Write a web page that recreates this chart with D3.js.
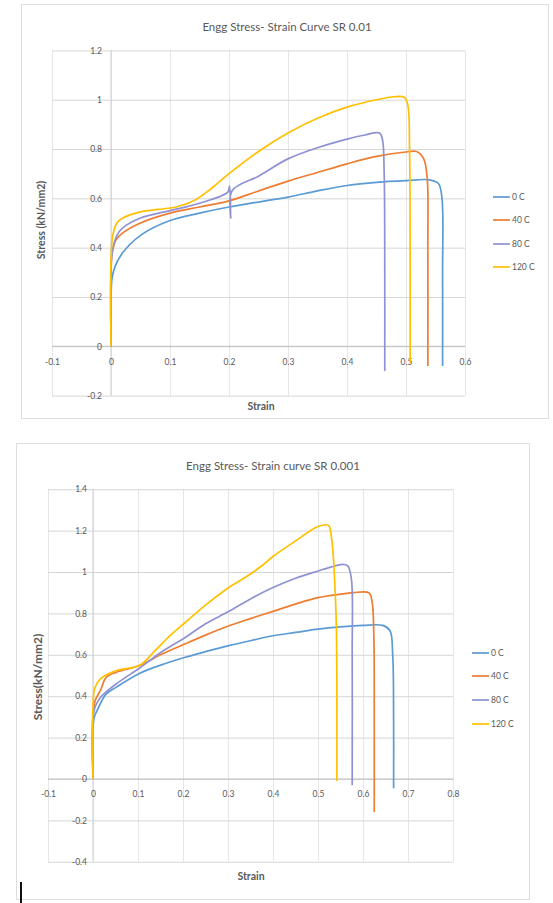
<!DOCTYPE html>
<html>
<head>
<meta charset="utf-8">
<script src="https://cdn.jsdelivr.net/npm/d3@7/dist/d3.min.js"></script>
<style>
  html, body { margin: 0; padding: 0; background: #fff; }
  svg { display: block; }
  text { font-family: Lato, "Open Sans", "Liberation Sans", sans-serif; fill: #595959; }
</style>
</head>
<body>
<svg id="fig" width="553" height="903"></svg>
<script>
// Engineering stress-strain curves at two strain rates, four test temperatures.
const seriesNames = ["0 C", "40 C", "80 C", "120 C"];
const seriesColors = ["#5B9BD5", "#ED7D31", "#8E92D2", "#FFC000"];

// Strain rate 0.01 : [strain, stress (kN/mm2)]
const sr01_0C = [[0,0],[0,0.2],[0.002,0.28],[0.008,0.33],[0.02,0.38],[0.05,0.45],[0.1,0.51],[0.15,0.54],[0.2,0.565],[0.25,0.585],[0.3,0.605],[0.35,0.63],[0.4,0.652],[0.45,0.665],[0.5,0.672],[0.54,0.675],[0.555,0.66],[0.561,0.6],[0.562,0.3],[0.562,-0.08]];
const sr01_40C = [[0,0],[0,0.3],[0.002,0.38],[0.008,0.43],[0.02,0.46],[0.05,0.5],[0.1,0.54],[0.15,0.565],[0.2,0.59],[0.25,0.63],[0.3,0.67],[0.35,0.705],[0.4,0.74],[0.45,0.77],[0.5,0.788],[0.518,0.79],[0.53,0.76],[0.536,0.68],[0.537,0.4],[0.537,-0.08]];
const sr01_80C = [[0,0],[0,0.3],[0.002,0.38],[0.01,0.45],[0.02,0.48],[0.05,0.52],[0.1,0.55],[0.15,0.58],[0.198,0.625],[0.201,0.65],[0.203,0.52],[0.205,0.63],[0.25,0.69],[0.3,0.76],[0.35,0.805],[0.4,0.84],[0.43,0.857],[0.455,0.865],[0.46,0.84],[0.463,0.7],[0.464,0.3],[0.464,-0.1]];
const sr01_120C = [[0,0],[0,0.35],[0.003,0.45],[0.01,0.5],[0.02,0.52],[0.05,0.545],[0.08,0.555],[0.11,0.565],[0.14,0.59],[0.17,0.64],[0.2,0.7],[0.25,0.79],[0.3,0.865],[0.35,0.925],[0.4,0.97],[0.45,1.0],[0.48,1.012],[0.497,1.01],[0.503,0.98],[0.506,0.8],[0.507,0.3],[0.507,-0.07]];

// Strain rate 0.001 : [strain, stress (kN/mm2)]
const sr001_0C = [[0,0],[0,0.25],[0.003,0.3],[0.009,0.33],[0.029,0.41],[0.052,0.444],[0.103,0.51],[0.15,0.55],[0.205,0.588],[0.25,0.615],[0.302,0.644],[0.35,0.668],[0.4,0.692],[0.45,0.708],[0.5,0.724],[0.55,0.735],[0.6,0.742],[0.644,0.742],[0.66,0.716],[0.666,0.6],[0.668,0.3],[0.668,-0.045]];
const sr001_40C = [[0,0],[0,0.3],[0.005,0.38],[0.017,0.43],[0.029,0.49],[0.052,0.516],[0.103,0.548],[0.15,0.6],[0.205,0.653],[0.25,0.695],[0.302,0.74],[0.35,0.775],[0.4,0.81],[0.45,0.845],[0.5,0.876],[0.55,0.893],[0.578,0.9],[0.613,0.9],[0.62,0.86],[0.624,0.7],[0.625,0.3],[0.625,-0.16]];
const sr001_80C = [[0,0],[0,0.3],[0.005,0.35],[0.017,0.395],[0.052,0.46],[0.103,0.535],[0.15,0.61],[0.205,0.684],[0.25,0.75],[0.302,0.81],[0.35,0.87],[0.4,0.925],[0.45,0.97],[0.5,1.005],[0.53,1.025],[0.554,1.037],[0.566,1.03],[0.574,0.97],[0.576,0.6],[0.576,-0.03]];
const sr001_120C = [[0,0],[0,0.35],[0.004,0.44],[0.017,0.485],[0.052,0.524],[0.103,0.548],[0.138,0.62],[0.17,0.69],[0.205,0.756],[0.25,0.84],[0.302,0.925],[0.35,0.99],[0.375,1.03],[0.4,1.075],[0.45,1.15],[0.5,1.22],[0.523,1.225],[0.53,1.165],[0.54,0.8],[0.542,0.3],[0.542,-0.01]];

// Tick values
const xTicks01 = [-0.1, 0, 0.1, 0.2, 0.3, 0.4, 0.5, 0.6];
const yTicks01 = [-0.2, 0, 0.2, 0.4, 0.6, 0.8, 1, 1.2];
const xTicks001 = [-0.1, 0, 0.1, 0.2, 0.3, 0.4, 0.5, 0.6, 0.7, 0.8];
const yTicks001 = [-0.4, -0.2, 0, 0.2, 0.4, 0.6, 0.8, 1, 1.2, 1.4];

const titles = ["Engg Stress- Strain Curve SR 0.01", "Engg Stress- Strain curve SR 0.001"];
const yTitles = ["Stress (kN/mm2)", "Stress(kN/mm2)"];
const xTitle = "Strain";

const svg = d3.select("#fig");

function drawChart(cfg) {
  const g = svg.append("g");
  const [bx0, by0, bx1, by1] = cfg.box;
  g.append("rect").attr("x", bx0 + 0.5).attr("y", by0 + 0.5)
    .attr("width", bx1 - bx0).attr("height", by1 - by0)
    .attr("fill", "#fff").attr("stroke", "#dedede");

  const x = d3.scaleLinear().domain(cfg.xDomain).range(cfg.xRange);
  const y = d3.scaleLinear().domain(cfg.yDomain).range(cfg.yRange);

  // vertical gridlines
  g.append("g").attr("transform", `translate(0,${cfg.yRange[1]})`)
    .call(d3.axisBottom(x).tickValues(cfg.xTicks).tickSize(cfg.yRange[0] - cfg.yRange[1]).tickFormat(""))
    .call(a => a.select(".domain").remove())
    .call(a => a.selectAll("line").attr("stroke", "#e6e6e6"));
  // horizontal gridlines
  g.append("g").attr("transform", `translate(${cfg.xRange[0]},0)`)
    .call(d3.axisRight(y).tickValues(cfg.yTicks).tickSize(cfg.xRange[1] - cfg.xRange[0]).tickFormat(""))
    .call(a => a.select(".domain").remove())
    .call(a => a.selectAll("line").attr("stroke", "#d6d6d6"));

  // axis lines crossing at the origin
  g.append("line").attr("x1", x(0)).attr("x2", x(0))
    .attr("y1", cfg.yRange[0]).attr("y2", cfg.yRange[1]).attr("stroke", "#cfcfcf");
  g.append("line").attr("x1", cfg.xRange[0]).attr("x2", cfg.xRange[1])
    .attr("y1", y(0)).attr("y2", y(0)).attr("stroke", "#bfbfbf");

  // tick labels
  g.append("g").attr("transform", `translate(${x(0)},0)`)
    .call(d3.axisLeft(y).tickValues(cfg.yTicks).tickSize(0).tickPadding(cfg.yPad).tickFormat(d => String(d)))
    .call(a => a.select(".domain").remove())
    .call(a => a.selectAll("text").attr("font-size", 8.5).attr("fill", "#595959")
      .style("font-family", "Lato, 'Open Sans', sans-serif"));
  g.append("g").attr("transform", `translate(0,${y(0)})`)
    .call(d3.axisBottom(x).tickValues(cfg.xTicks).tickSize(0).tickPadding(cfg.xPad).tickFormat(d => String(d)))
    .call(a => a.select(".domain").remove())
    .call(a => a.selectAll("text").attr("font-size", 8.5).attr("fill", "#595959")
      .style("font-family", "Lato, 'Open Sans', sans-serif"));

  // curves
  const line = d3.line().x(d => x(d[0])).y(d => y(d[1])).curve(d3.curveCatmullRom.alpha(0.5));
  cfg.series.forEach((data, i) => {
    g.append("path").datum(data).attr("d", line)
      .attr("fill", "none").attr("stroke", seriesColors[i])
      .attr("stroke-width", 1.7).attr("stroke-linejoin", "round");
  });

  // titles
  g.append("text").attr("x", cfg.titlePos[0]).attr("y", cfg.titlePos[1])
    .attr("text-anchor", "middle").attr("font-size", 11.5).text(cfg.title);
  g.append("text").attr("transform", `translate(${cfg.yTitlePos[0]},${cfg.yTitlePos[1]}) rotate(-90)`)
    .attr("text-anchor", "middle").attr("font-size", cfg.yTitleSize).attr("font-weight", "bold").text(cfg.yTitle);
  g.append("text").attr("x", cfg.xTitlePos[0]).attr("y", cfg.xTitlePos[1])
    .attr("text-anchor", "middle").attr("font-size", 10.5).attr("font-weight", "bold").text(xTitle);

  // legend
  const lg = g.append("g");
  seriesNames.forEach((name, i) => {
    const ly = cfg.legendY[i];
    lg.append("line").attr("x1", cfg.legendX).attr("x2", cfg.legendX + 17)
      .attr("y1", ly).attr("y2", ly).attr("stroke", seriesColors[i]).attr("stroke-width", 1.7);
    lg.append("text").attr("x", cfg.legendX + 19).attr("y", ly + 3)
      .attr("font-size", 8.5).text(name);
  });
}

drawChart({
  box: [21, 4, 548, 418],
  xDomain: [-0.1, 0.6], xRange: [52, 465],
  yDomain: [-0.2, 1.2], yRange: [395.6, 50.4],
  xTicks: xTicks01, yTicks: yTicks01,
  xPad: 13, yPad: 9,
  series: [sr01_0C, sr01_40C, sr01_80C, sr01_120C],
  title: titles[0], titlePos: [287, 31],
  yTitle: yTitles[0], yTitleSize: 10.5, yTitlePos: [45, 220],
  xTitlePos: [261, 410],
  legendX: 493, legendY: [197, 220, 244, 267]
});

drawChart({
  box: [16, 443, 529, 899],
  xDomain: [-0.1, 0.8], xRange: [48, 453],
  yDomain: [-0.4, 1.4], yRange: [861.8, 489.2],
  xTicks: xTicks001, yTicks: yTicks001,
  xPad: 12, yPad: 6,
  series: [sr001_0C, sr001_40C, sr001_80C, sr001_120C],
  title: titles[1], titlePos: [273, 470],
  yTitle: yTitles[1], yTitleSize: 12, yTitlePos: [42, 677],
  xTitlePos: [251, 880],
  legendX: 472, legendY: [653, 676, 700, 724]
});

// text-insertion caret left at the lower left
svg.append("rect").attr("x", 20).attr("y", 882).attr("width", 2).attr("height", 21).attr("fill", "#111");
</script>
</body>
</html>
